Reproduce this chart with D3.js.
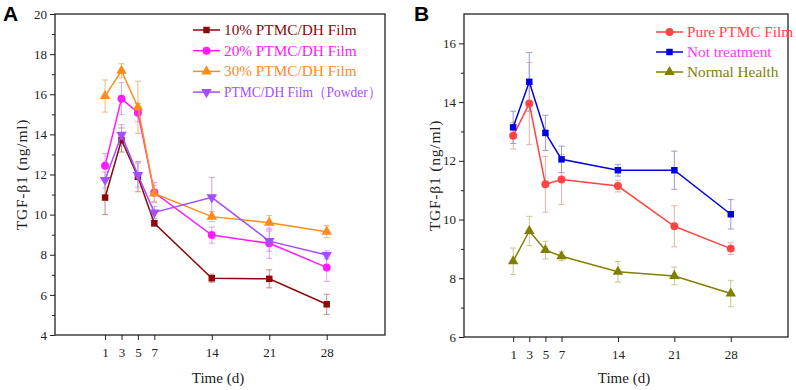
<!DOCTYPE html>
<html>
<head>
<meta charset="utf-8">
<script src="https://cdn.jsdelivr.net/npm/d3@7"></script>
<style>
  body { margin: 0; background: #fff; }
  svg { display: block; }
  .tick text { font-family: "Liberation Serif", "DejaVu Serif", serif; }
</style>
</head>
<body>
<div id="chart"></div>
<script>
// sampling days
const days = [1, 3, 5, 7, 14, 21, 28];

// panel A series (ng/ml) and error half-widths
const pA_10 = [10.85, 13.72, 11.89, 9.57, 6.83, 6.80, 5.53];
const pA_10_err = [0.85, 0.6, 0.75, 0.15, 0.2, 0.45, 0.5];
const pA_20 = [12.44, 15.78, 15.08, 11.1, 8.98, 8.57, 7.37];
const pA_20_err = [0.6, 0.8, 0.45, 0.5, 0.4, 0.75, 0.7];
const pA_30 = [15.91, 17.17, 15.35, 11.06, 9.9, 9.6, 9.15];
const pA_30_err = [0.8, 0.35, 1.3, 0.4, 0.25, 0.35, 0.3];
const pA_pw = [11.73, 13.98, 11.97, 10.11, 10.86, 8.68, 7.99];
const pA_pw_err = [0.4, 0.5, 0.6, 0.3, 1.0, 0.5, 0.2];

// panel B series
const pB_pure = [12.85, 13.95, 11.2, 11.36, 11.14, 9.77, 9.01];
const pB_pure_err = [0.45, 1.4, 0.95, 0.85, 0.2, 0.7, 0.2];
const pB_not = [13.14, 14.69, 12.95, 12.05, 11.68, 11.68, 10.18];
const pB_not_err = [0.55, 1.0, 0.6, 0.45, 0.2, 0.65, 0.5];
const pB_norm = [8.58, 9.61, 8.96, 8.75, 8.22, 8.08, 7.48];
const pB_norm_err = [0.45, 0.5, 0.3, 0.15, 0.35, 0.3, 0.45];

const yTicksA = [4, 6, 8, 10, 12, 14, 16, 18, 20];
const yTicksB = [6, 8, 10, 12, 14, 16];

const serif = "'Liberation Serif', 'DejaVu Serif', serif";

const svg = d3.select("#chart").append("svg")
    .attr("width", 796)
    .attr("height", 390);

function drawPanel(p) {
    let g = svg.append("g");

    let x = d3.scaleLinear().domain([-5.1, 35.1]).range([p.left, p.right]);
    let y = d3.scaleLinear().domain(p.yDomain).range([p.bottom, p.top]);

    // frame
    g.append("rect")
        .attr("x", p.left).attr("y", p.top)
        .attr("width", p.right - p.left).attr("height", p.bottom - p.top)
        .attr("fill", "none").attr("stroke", "#222").attr("stroke-width", 1.3);

    // y axis with minor ticks
    let minor = d3.range(p.yDomain[0] + 1, p.yDomain[1], 2);
    g.append("g")
        .attr("transform", "translate(" + p.left + ",0)")
        .call(d3.axisLeft(y).tickValues(minor).tickSize(3).tickFormat(""))
        .call(a => a.select(".domain").remove())
        .call(a => a.selectAll("line").attr("stroke", "#222"));
    g.append("g")
        .attr("transform", "translate(" + p.left + ",0)")
        .call(d3.axisLeft(y).tickValues(p.yTicks).tickSize(5).tickPadding(3))
        .call(a => a.select(".domain").remove())
        .call(a => a.selectAll("line").attr("stroke", "#222"))
        .call(a => a.selectAll("text").attr("font-size", 13).attr("fill", "#222"));

    // x axis
    g.append("g")
        .attr("transform", "translate(0," + p.bottom + ")")
        .call(d3.axisBottom(x).tickValues(days).tickSize(5).tickPadding(8))
        .call(a => a.select(".domain").remove())
        .call(a => a.selectAll("line").attr("stroke", "#222"))
        .call(a => a.selectAll("text").attr("font-size", 13).attr("fill", "#222"));

    // axis titles
    g.append("text")
        .attr("x", (p.left + p.right) / 2 - 2)
        .attr("y", 383)
        .attr("text-anchor", "middle")
        .attr("font-family", serif).attr("font-size", 15).attr("fill", "#222")
        .text("Time (d)");
    g.append("text")
        .attr("transform", "translate(" + p.yTitleX + "," + ((p.top + p.bottom) / 2) + ") rotate(-90)")
        .attr("text-anchor", "middle")
        .attr("font-family", serif).attr("font-size", 15.5).attr("fill", "#222")
        .attr("letter-spacing", 0.8)
        .text("TGF-β1 (ng/ml)");

    // panel letter
    g.append("text")
        .attr("x", p.letterX).attr("y", 21)
        .attr("font-family", "'Liberation Sans', Arial, sans-serif")
        .attr("font-weight", "bold").attr("font-size", 21)
        .text(p.letter);

    // error bars
    p.series.forEach(s => {
        let eg = g.append("g").attr("stroke", s.errColor).attr("stroke-width", 1);
        s.values.forEach((v, i) => {
            let cx = x(days[i]);
            let y0 = y(v - s.err[i]), y1 = y(v + s.err[i]);
            eg.append("line").attr("x1", cx).attr("x2", cx).attr("y1", y0).attr("y2", y1);
            eg.append("line").attr("x1", cx - 3).attr("x2", cx + 3).attr("y1", y0).attr("y2", y0);
            eg.append("line").attr("x1", cx - 3).attr("x2", cx + 3).attr("y1", y1).attr("y2", y1);
        });
    });

    // lines and markers
    let line = d3.line().x((d, i) => x(days[i])).y(d => y(d));
    p.series.forEach(s => {
        g.append("path")
            .datum(s.values)
            .attr("d", line)
            .attr("fill", "none")
            .attr("stroke", s.color)
            .attr("stroke-width", 1.5);
        g.selectAll(null)
            .data(s.values)
            .enter().append("path")
            .attr("d", d3.symbol().type(s.symbol).size(s.size))
            .attr("transform", (d, i) => "translate(" + x(days[i]) + "," + y(d) + ")" + (s.flip ? " rotate(180)" : ""))
            .attr("fill", s.color);
    });

    // legend
    p.series.forEach((s, i) => {
        let ly = p.legendY + i * p.legendStep;
        g.append("line")
            .attr("x1", p.legendX).attr("x2", p.legendX + 27)
            .attr("y1", ly).attr("y2", ly)
            .attr("stroke", s.color).attr("stroke-width", 1.5);
        g.append("path")
            .attr("d", d3.symbol().type(s.symbol).size(s.size))
            .attr("transform", "translate(" + (p.legendX + 13.5) + "," + ly + ")" + (s.flip ? " rotate(180)" : ""))
            .attr("fill", s.color);
        let t = g.append("text")
            .attr("x", p.legendX + 31).attr("y", ly + 5)
            .attr("font-family", serif).attr("font-size", 15.3)
            .attr("fill", s.textColor || s.color)
            .text(s.name);
        // the full-width brackets render wide, keep that label inside the frame
        if (s.labelWidth) t.attr("textLength", s.labelWidth).attr("lengthAdjust", "spacingAndGlyphs");
    });
}

drawPanel({
    letter: "A", letterX: 3,
    left: 55, right: 385, top: 14, bottom: 335,
    yDomain: [4, 20], yTicks: yTicksA, yTitleX: 27,
    legendX: 193, legendY: 30, legendStep: 20.7,
    series: [
        { name: "10% PTMC/DH Film", values: pA_10, err: pA_10_err, color: "#8b0a0a", errColor: "#c48a8a", symbol: d3.symbolSquare, size: 42 },
        { name: "20% PTMC/DH Film", values: pA_20, err: pA_20_err, color: "#ff1aff", errColor: "#e8a0e8", symbol: d3.symbolCircle, size: 50 },
        { name: "30% PTMC/DH Film", values: pA_30, err: pA_30_err, color: "#ff8c1a", errColor: "#e8b888", symbol: d3.symbolTriangle, size: 48 },
        { name: "PTMC/DH Film（Powder）", values: pA_pw, err: pA_pw_err, color: "#a64dff", errColor: "#c8a0e8", symbol: d3.symbolTriangle, size: 48, flip: true, labelWidth: 157 }
    ]
});

drawPanel({
    letter: "B", letterX: 414,
    left: 464, right: 788, top: 14, bottom: 337,
    yDomain: [6, 17], yTicks: yTicksB, yTitleX: 440,
    legendX: 656, legendY: 32, legendStep: 20,
    series: [
        { name: "Pure PTMC Film", values: pB_pure, err: pB_pure_err, color: "#ff4444", errColor: "#eab0b0", symbol: d3.symbolCircle, size: 50 },
        { name: "Not treatment", values: pB_not, err: pB_not_err, color: "#0000e0", errColor: "#9a9ad8", textColor: "#ff33ff", symbol: d3.symbolSquare, size: 42 },
        { name: "Normal Health", values: pB_norm, err: pB_norm_err, color: "#808000", errColor: "#c8c890", symbol: d3.symbolTriangle, size: 48 }
    ]
});
</script>
</body>
</html>
